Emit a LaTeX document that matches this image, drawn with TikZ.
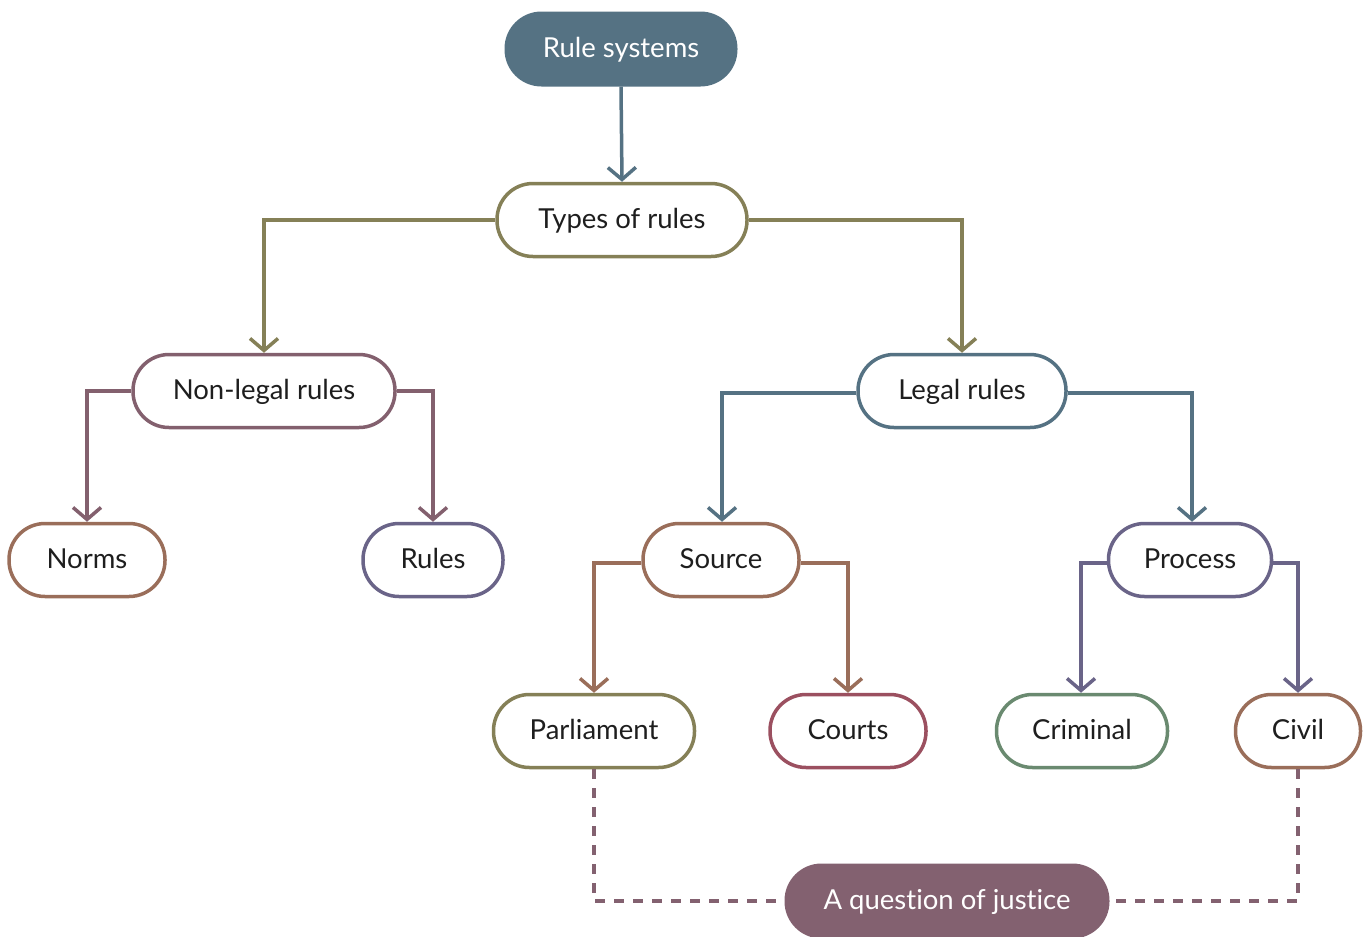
\documentclass[tikz,border=0pt]{standalone}
\usepackage{fontspec}
\setmainfont{Lato}[Ligatures={NoCommon}]
\usetikzlibrary{arrows.meta}
\definecolor{slate}{HTML}{557283}
\definecolor{olive}{HTML}{858057}
\definecolor{mauve}{HTML}{83606E}
\definecolor{clay}{HTML}{9A6E5A}
\definecolor{dusk}{HTML}{6A6488}
\definecolor{rose}{HTML}{9B5060}
\definecolor{sage}{HTML}{6A8A70}
\definecolor{plum}{HTML}{836170}
\definecolor{ink}{HTML}{1E1E1E}
\begin{document}
\begin{tikzpicture}[x=1pt,y=-1pt,
  label font/.style={font=\fontsize{27.5}{32}\selectfont, text height=21pt, text depth=5pt},
  pill/.style={draw=#1, line width=3.5pt, fill=white, rectangle, rounded corners=36pt,
    minimum height=73pt, inner sep=0pt, text=ink, label font},
  solidpill/.style={fill=#1, rectangle, rounded corners=37pt,
    minimum height=75pt, inner sep=0pt, text=white, label font},
  link/.style={draw=#1, line width=3.5pt,
    -{Straight Barb[length=12pt,width=28pt,line width=3.5pt]}},
  tie/.style={draw=plum, line width=3.5pt, dash pattern=on 10pt off 9pt},
]
\useasboundingbox (0,0) rectangle (1371,937);

% nodes
\node[solidpill=slate, minimum width=233pt] (sys) at (621,49) {Rule systems};
\node[pill=olive, minimum width=250pt] (types) at (622,220) {Types of rules};
\node[pill=mauve, minimum width=262pt] (nonlegal) at (264,391) {Non-legal rules};
\node[pill=slate, minimum width=208pt] (legal) at (962,391) {Legal rules};
\node[pill=clay, minimum width=156pt] (norms) at (87,560) {Norms};
\node[pill=dusk, minimum width=140pt] (rules) at (433,560) {Rules};
\node[pill=clay, minimum width=156pt] (source) at (721,560) {Source};
\node[pill=dusk, minimum width=163pt] (process) at (1190,560) {Process};
\node[pill=olive, minimum width=201pt] (parl) at (594,731) {Parliament};
\node[pill=rose, minimum width=156pt] (courts) at (848,731) {Courts};
\node[pill=sage, minimum width=171pt] (crim) at (1082,731) {Criminal};
\node[pill=clay, minimum width=125pt] (civil) at (1298,731) {Civil};
\node[solidpill=plum, minimum width=325pt] (justice) at (947,901) {A question of justice};

% tree connectors
\draw[link=slate] (sys.south) -- (types.north);
\draw[link=olive] (types.west) -| (nonlegal.north);
\draw[link=olive] (types.east) -| (legal.north);
\draw[link=mauve] (nonlegal.west) -| (norms.north);
\draw[link=mauve] (nonlegal.east) -| (rules.north);
\draw[link=slate] ([yshift=-2pt]legal.west) -| ([xshift=1pt]source.north);
\draw[link=slate] ([yshift=-2pt]legal.east) -| ([xshift=2pt]process.north);
\draw[link=clay] ([yshift=-3pt]source.west) -| (parl.north);
\draw[link=clay] ([yshift=-3pt]source.east) -| (courts.north);
\draw[link=dusk] ([yshift=-3pt]process.west) -| ([xshift=-1pt]crim.north);
\draw[link=dusk] ([yshift=-3pt]process.east) -| (civil.north);

% dashed links to the shared theme
\draw[tie] (parl.south) |- (justice.west);
\draw[tie] (civil.south) |- (justice.east);
\end{tikzpicture}
\end{document}
